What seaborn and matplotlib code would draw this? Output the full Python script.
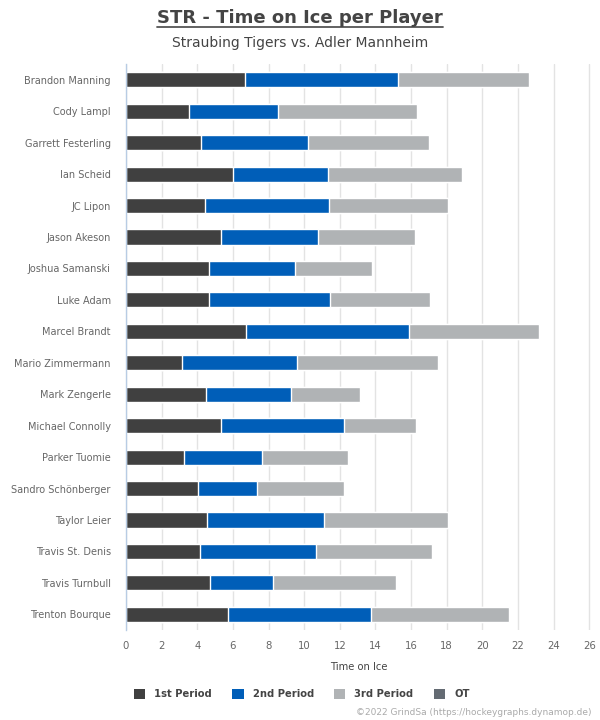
import pandas as pd
import matplotlib.pyplot as plt
import seaborn as sns
from matplotlib.patches import Patch
from matplotlib.lines import Line2D

# Spieler und Eiszeit je Drittel (Minuten)
players = ['Brandon Manning', 'Cody Lampl', 'Garrett Festerling', 'Ian Scheid',
           'JC Lipon', 'Jason Akeson', 'Joshua Samanski', 'Luke Adam',
           'Marcel Brandt', 'Mario Zimmermann', 'Mark Zengerle', 'Michael Connolly',
           'Parker Tuomie', 'Sandro Schönberger', 'Taylor Leier', 'Travis St. Denis',
           'Travis Turnbull', 'Trenton Bourque']
p1 = [6.69, 3.54, 4.22, 6.01, 4.44, 5.34, 4.67, 4.67, 6.75,
      3.15, 4.50, 5.34, 3.26, 4.05, 4.55, 4.16, 4.72, 5.73]
p2 = [8.58, 4.99, 6.01, 5.35, 6.97, 5.45, 4.83, 6.80, 9.16,
      6.46, 4.78, 6.92, 4.39, 3.31, 6.58, 6.52, 3.54, 8.04]
p3 = [7.37, 7.81, 6.79, 7.51, 6.67, 5.44, 4.31, 5.60, 7.29,
      7.91, 3.86, 4.03, 4.81, 4.88, 6.95, 6.50, 6.90, 7.74]
ot = [0.0] * len(players)
periods = ['1st Period', '2nd Period', '3rd Period', 'OT']
colors = ['#404040', '#005eb8', '#b0b3b5', '#646b73']

df = pd.DataFrame({'player': players, 'p1': p1, 'p2': p2, 'p3': p3, 'ot': ot})
df['c1'] = df['p1']
df['c2'] = df['c1'] + df['p2']
df['c3'] = df['c2'] + df['p3']
df['c4'] = df['c3'] + df['ot']

sns.set_style('white')
plt.rcParams['font.family'] = ['DejaVu Sans']

fig = plt.figure(figsize=(6, 7.2), dpi=100)
ax = fig.add_axes([0.21, 0.125, 0.775, 0.786])

# gestapelte Balken: Summen von hinten nach vorne zeichnen
for col, color in zip(['c4', 'c3', 'c2', 'c1'], colors[::-1]):
    sns.barplot(data=df, x=col, y='player', order=players, color=color,
                width=0.48, edgecolor='white', linewidth=1, ax=ax,
                saturation=1)

ax.set_xlim(0, 26.1)
ax.set_ylim(len(players) - 0.5, -0.5)
ax.set_xticks(range(0, 27, 2))
ax.xaxis.grid(True, color='#e3e3e3', linewidth=1)
ax.set_axisbelow(True)
for s in ['top', 'right', 'bottom']:
    ax.spines[s].set_visible(False)
ax.spines['left'].set_color('#b8cce4')
ax.spines['left'].set_linewidth(1)
ax.tick_params(axis='both', length=0, labelsize=7, labelcolor='#666666')
ax.tick_params(axis='x', labelsize=7.3, pad=8)
ax.tick_params(axis='y', pad=11)
ax.set_xlabel('Time on Ice', fontsize=7.2, color='#444444', labelpad=8)
ax.set_ylabel('')

fig.text(0.5, 0.975, 'STR - Time on Ice per Player', ha='center', va='center',
         fontsize=13, fontweight='bold', color='#444444')
fig.add_artist(Line2D([0.262, 0.738], [0.9625, 0.9625], color='#555555',
                      linewidth=1.3, transform=fig.transFigure))
fig.text(0.5, 0.94, 'Straubing Tigers vs. Adler Mannheim', ha='center',
         va='center', fontsize=10, color='#444444')

handles = [Patch(facecolor=c, edgecolor='none') for c in colors]
leg = fig.legend(handles, periods, loc='center', bbox_to_anchor=(0.503, 0.036),
                 ncol=4, frameon=False, handlelength=1.15, handleheight=1.15,
                 handletextpad=0.9, columnspacing=2.0,
                 prop={'size': 7.2, 'weight': 'bold'})
for t in leg.get_texts():
    t.set_color('#444444')

fig.text(0.985, 0.011, '©2022 GrindSa (https://hockeygraphs.dynamop.de)',
         ha='right', va='center', fontsize=6.5, color='#aaaaaa')

plt.savefig('out.png', dpi=100)
